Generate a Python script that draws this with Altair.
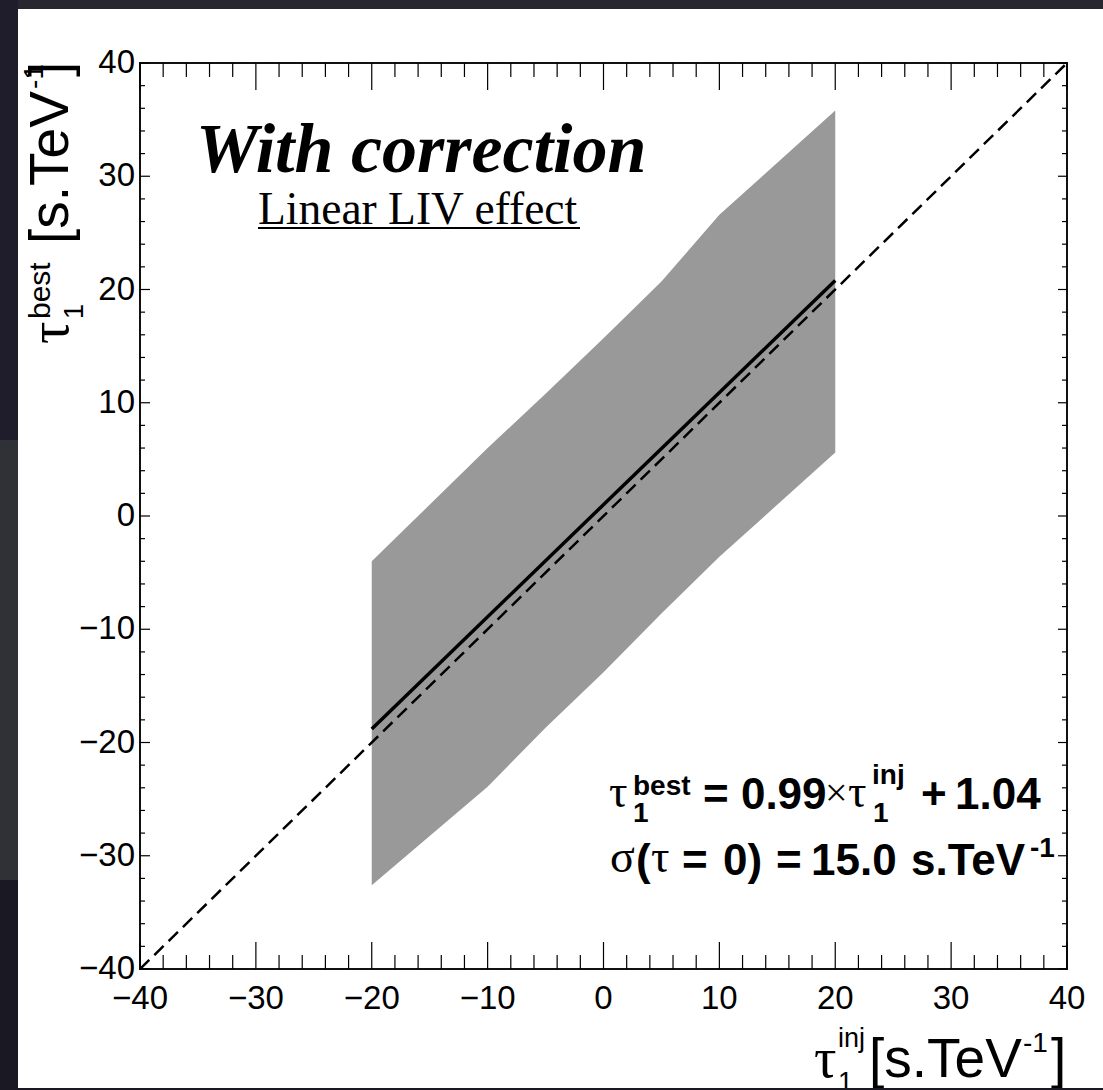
import altair as alt
import pandas as pd

# ---------------- data ----------------
TAU_INJ = [-20, -10, -5, 0, 5, 10, 20]
BAND_HI = [-4.0, 6.0, 10.8, 15.7, 20.7, 26.6, 35.8]
BAND_LO = [-32.6, -23.9, -18.7, -13.8, -8.6, -3.6, 5.6]
FIT_X = [-20, 20]
FIT_Y = [-18.8, 20.8]
DIAG_X = [-40, 40]
DIAG_Y = [-40, 40]
MAJOR_TICKS = [-40, -30, -20, -10, 0, 10, 20, 30, 40]
MINOR_TICKS = [v for v in range(-40, 41, 2) if v % 10 != 0]

TITLE = "With correction"
SUBTITLE = "Linear LIV effect"

# ---------------- layout ----------------
W, H = 927, 906          # plot area
L, T = 140, 63           # plot origin on the page
SANS = "Liberation Sans"
SERIF = "Liberation Serif"

xs = alt.Scale(domain=[-40, 40], nice=False, zero=False)
ys = alt.Scale(domain=[-40, 40], nice=False, zero=False)

band = alt.Chart(pd.DataFrame({"x": TAU_INJ, "lo": BAND_LO, "hi": BAND_HI})).mark_area(
    color="#999999", opacity=1
).encode(
    x=alt.X("x:Q", scale=xs, axis=None),
    y=alt.Y("lo:Q", scale=ys, axis=None),
    y2="hi:Q",
)

diag = alt.Chart(pd.DataFrame({"x": DIAG_X, "y": DIAG_Y})).mark_line(
    color="black", strokeWidth=2.5, strokeDash=[13, 7], clip=True
).encode(x=alt.X("x:Q", scale=xs, axis=None), y=alt.Y("y:Q", scale=ys, axis=None))

fit = alt.Chart(pd.DataFrame({"x": FIT_X, "y": FIT_Y})).mark_line(
    color="black", strokeWidth=3.5
).encode(x=alt.X("x:Q", scale=xs, axis=None), y=alt.Y("y:Q", scale=ys, axis=None))


def ticks(values, side, length):
    base = alt.Chart(pd.DataFrame({"v": values})).mark_rule(color="black", strokeWidth=1.2)
    if side == "bottom":
        return base.encode(x=alt.X("v:Q", scale=xs, axis=None), y=alt.value(H), y2=alt.value(H - length))
    if side == "top":
        return base.encode(x=alt.X("v:Q", scale=xs, axis=None), y=alt.value(0), y2=alt.value(length))
    if side == "left":
        return base.encode(y=alt.Y("v:Q", scale=ys, axis=None), x=alt.value(0), x2=alt.value(length))
    return base.encode(y=alt.Y("v:Q", scale=ys, axis=None), x=alt.value(W), x2=alt.value(W - length))


tick_layers = [
    ticks(MAJOR_TICKS, "bottom", 27), ticks(MINOR_TICKS, "bottom", 14),
    ticks(MAJOR_TICKS, "top", 27), ticks(MINOR_TICKS, "top", 14),
    ticks(MAJOR_TICKS, "left", 10), ticks(MINOR_TICKS, "left", 5),
    ticks(MAJOR_TICKS, "right", 9), ticks(MINOR_TICKS, "right", 5),
]

# tick labels, placed through the scales
xlabels = alt.Chart(pd.DataFrame({"v": MAJOR_TICKS})).mark_text(
    align="center", baseline="top", font=SANS, fontSize=33, color="black"
).encode(x=alt.X("v:Q", scale=xs, axis=None), y=alt.value(H + 14),
         text=alt.Text("v:Q", format="d"))
ylabels = alt.Chart(pd.DataFrame({"v": MAJOR_TICKS})).mark_text(
    align="right", baseline="middle", font=SANS, fontSize=33, color="black"
).encode(y=alt.Y("v:Q", scale=ys, axis=None), x=alt.value(-5),
         text=alt.Text("v:Q", format="d"))


def txt(s, ax, ay, size, font=SANS, weight="normal", style="normal", angle=0):
    mk = dict(align="left", baseline="alphabetic", font=font, fontSize=size,
              fontWeight=weight, fontStyle=style, color="black")
    if angle:
        mk["angle"] = angle
    return alt.Chart(pd.DataFrame({"t": [s]})).mark_text(**mk).encode(
        x=alt.value(ax - L), y=alt.value(ay - T), text="t:N")


texts = [
    # title block
    txt(TITLE, 196, 172, 70, font=SERIF, weight="bold", style="italic"),
    txt(SUBTITLE, 258, 224, 45.5, font=SERIF),
    # annotation line 1
    txt("τ", 609, 807, 46, font=SERIF),
    txt("1", 633, 822, 28, weight="bold"),
    txt("best", 633, 795, 28, weight="bold"),
    txt("= 0.99", 703, 809, 44, weight="bold"),
    txt("×", 825, 806, 40, font=SERIF),
    txt("τ", 848, 807, 46, font=SERIF),
    txt("1", 873, 822, 28, weight="bold"),
    txt("inj", 872, 784, 28, weight="bold"),
    txt("+", 921, 809, 44, weight="bold"),
    txt("1.04", 955, 809, 44, weight="bold"),
    # annotation line 2
    txt("σ", 610, 872, 46, font=SERIF),
    txt("(", 636, 875, 44, weight="bold"),
    txt("τ", 651, 872, 46, font=SERIF),
    txt("=", 682, 875, 44, weight="bold"),
    txt("0)", 723, 875, 44, weight="bold"),
    txt("=", 776, 875, 44, weight="bold"),
    txt("15.0", 811, 875, 44, weight="bold"),
    txt("s.TeV", 911, 875, 44, weight="bold"),
    txt("-1", 1030, 857, 28, weight="bold"),
    # x axis title
    txt("τ", 814, 1077, 56, font=SERIF),
    txt("1", 838, 1091, 27),
    txt("inj", 838, 1047, 27),
    txt("[s.TeV", 869, 1077, 55),
    txt("-1", 1023, 1052, 28),
    txt("]", 1051, 1077, 55),
    # y axis title (rotated)
    txt("τ", 68, 344, 56, font=SERIF, angle=270),
    txt("1", 83, 319, 27, angle=270),
    txt("best", 50, 319, 30, angle=270),
    txt("[s.TeV", 68, 244, 55, angle=270),
    txt("-1", 43, 89, 28, angle=270),
    txt("]", 68, 77, 55, angle=270),
]

underline = alt.Chart(pd.DataFrame({"k": [0]})).mark_rule(color="black", strokeWidth=2).encode(
    x=alt.value(258 - L), x2=alt.value(580 - L), y=alt.value(228 - T))


def strip(x0, x1, y0, y1, color):
    return alt.Chart(pd.DataFrame({"k": [0]})).mark_rect(color=color).encode(
        x=alt.value(x0 - L), x2=alt.value(x1 - L), y=alt.value(y0 - T), y2=alt.value(y1 - T))


strips = [
    strip(0, 1103, 0, 9, "#28272f"),
    strip(0, 18, 0, 440, "#1f1d2b"),
    strip(0, 18, 440, 880, "#303136"),
    strip(0, 18, 880, 1090, "#1a1822"),
    strip(0, 1103, 1088, 1090, "#1a1822"),
]

chart = alt.layer(
    band, diag, fit, *tick_layers, xlabels, ylabels, *texts, underline, *strips
).properties(
    width=W, height=H, background="white",
    padding={"left": L, "top": T, "right": 1103 - L - W, "bottom": 1090 - T - H},
    autosize=alt.AutoSizeParams(type="none"),
).configure_view(stroke="#111111", strokeWidth=2)

chart.save("out.html", embed_options={"renderer": "svg", "actions": False})
